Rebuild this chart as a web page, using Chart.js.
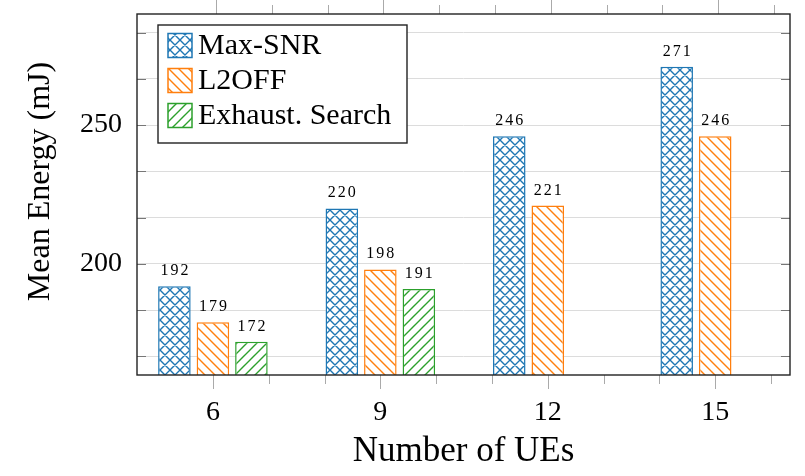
<!DOCTYPE html>
<html>
<head>
<meta charset="utf-8">
<script src="https://cdn.jsdelivr.net/npm/chart.js@4.4.0/dist/chart.umd.min.js"></script>
<style>
  html, body { margin: 0; padding: 0; background: #fff; }
</style>
</head>
<body>
<canvas id="chart" width="805" height="476"></canvas>
<script>
// data
const ues = [6, 9, 12, 15];
const maxSnr = [192, 220, 246, 271];
const l2off = [179, 198, 221, 246];
const exhaust = [172, 191, null, null];
const seriesNames = ['Max-SNR', 'L2OFF', 'Exhaust. Search'];

// axis ticks
const xMajorTicks = [6, 9, 12, 15];
const xMinorTicks = [7, 8, 10, 11, 13, 14, 16];
const xTopStubs = [6, 7, 8, 9, 10, 11, 12, 13, 14, 15, 16];
const yTicks = [500 / 3, 550 / 3, 200, 650 / 3, 700 / 3, 250, 800 / 3, 850 / 3];
const yLabelled = [200, 250];
const yTitle = 'Mean Energy (mJ)';

const colors = ['#1f77b4', '#ff7f0e', '#2ca02c'];
const hatches = ['cross', 'nw', 'ne'];
const serif = "'Liberation Serif', 'DejaVu Serif', serif";

const canvas = document.getElementById('chart');
const ctx = canvas.getContext('2d');

function makePattern(color, kind) {
  const size = 10;
  const c = document.createElement('canvas');
  c.width = size;
  c.height = size;
  const g = c.getContext('2d');
  g.fillStyle = '#fff';
  g.fillRect(0, 0, size, size);
  g.strokeStyle = color;
  g.lineWidth = 1.4;
  g.beginPath();
  for (let k = -1; k <= 1; k++) {
    if (kind === 'cross' || kind === 'nw') {
      g.moveTo(k * size - 1, -1);
      g.lineTo(k * size + size + 1, size + 1);
    }
    if (kind === 'cross' || kind === 'ne') {
      g.moveTo(k * size - 1, size + 1);
      g.lineTo(k * size + size + 1, -1);
    }
  }
  g.stroke();
  return ctx.createPattern(c, 'repeat');
}

const patterns = colors.map((c, i) => makePattern(c, hatches[i]));

function points(values) {
  return ues.map((u, i) => ({ x: u, y: values[i] }));
}

const decor = {
  id: 'decor',
  afterDatasetsDraw(chart) {
    // value labels above the bars
    const c = chart.ctx;
    c.save();
    c.font = '16px ' + serif;
    c.fillStyle = '#000';
    c.textAlign = 'center';
    c.textBaseline = 'alphabetic';
    c.letterSpacing = '2px';
    chart.data.datasets.forEach((ds, di) => {
      const meta = chart.getDatasetMeta(di);
      meta.data.forEach((bar, i) => {
        const v = ds.data[i].y;
        if (v === null || v === undefined) return;
        c.fillText(String(v), bar.x + 1, bar.y - 11);
      });
    });
    c.restore();
  },
  afterDraw(chart) {
    const c = chart.ctx;
    const a = chart.chartArea;
    const xs = chart.scales.x;
    const ys = chart.scales.y;
    c.save();

    // major and minor ticks under the x axis
    c.strokeStyle = '#aaa';
    c.lineWidth = 1;
    c.beginPath();
    xMajorTicks.forEach(v => {
      const px = Math.round(xs.getPixelForValue(v)) + 0.5;
      c.moveTo(px, a.bottom);
      c.lineTo(px, a.bottom + 14);
    });
    xMinorTicks.forEach(v => {
      const px = Math.round(xs.getPixelForValue(v)) + 0.5;
      c.moveTo(px, a.bottom);
      c.lineTo(px, a.bottom + 9);
    });
    // stubs above the frame
    xTopStubs.forEach(v => {
      const px = Math.round(xs.getPixelForValue(v)) + 3.5;
      const major = xMajorTicks.includes(v);
      c.moveTo(px, major ? 0 : 5);
      c.lineTo(px, a.top);
    });
    c.stroke();

    // inward y ticks on both sides
    c.strokeStyle = '#777';
    c.beginPath();
    yTicks.forEach(v => {
      const py = Math.round(ys.getPixelForValue(v)) + 0.5;
      c.moveTo(a.left, py);
      c.lineTo(a.left + 9, py);
      c.moveTo(a.right - 9, py);
      c.lineTo(a.right, py);
    });
    c.stroke();

    // frame
    c.strokeStyle = '#222';
    c.lineWidth = 1.4;
    c.strokeRect(a.left, a.top, a.right - a.left, a.bottom - a.top);

    // y title
    c.save();
    c.translate(41, (a.top + a.bottom) / 2 - 13);
    c.rotate(-Math.PI / 2);
    c.font = '32px ' + serif;
    c.fillStyle = '#000';
    c.textAlign = 'center';
    c.textBaseline = 'middle';
    c.fillText(yTitle, 0, 0);
    c.restore();

    // legend box
    const lx = a.left + 21, ly = a.top + 11, lw = 249, lh = 118;
    c.fillStyle = '#fff';
    c.fillRect(lx, ly, lw, lh);
    c.strokeStyle = '#222';
    c.lineWidth = 1.4;
    c.strokeRect(lx, ly, lw, lh);
    c.font = '30px ' + serif;
    c.textAlign = 'left';
    c.textBaseline = 'middle';
    seriesNames.forEach((name, i) => {
      const cy = ly + 20.5 + i * 35;
      c.fillStyle = patterns[i];
      c.fillRect(lx + 10, cy - 12, 24, 24);
      c.strokeStyle = colors[i];
      c.lineWidth = 1.5;
      c.strokeRect(lx + 10, cy - 12, 24, 24);
      c.fillStyle = '#000';
      c.fillText(name, lx + 40, cy + 1);
    });
    c.restore();
  }
};

new Chart(ctx, {
  type: 'bar',
  data: {
    datasets: [
      { label: seriesNames[0], data: points(maxSnr) },
      { label: seriesNames[1], data: points(l2off) },
      { label: seriesNames[2], data: points(exhaust) }
    ].map((d, i) => Object.assign(d, {
      backgroundColor: patterns[i],
      borderColor: colors[i],
      borderWidth: 1.5,
      borderSkipped: false,
      categoryPercentage: 0.69,
      barPercentage: 0.845
    }))
  },
  options: {
    responsive: false,
    animation: false,
    layout: { padding: { top: 14, right: 15, left: 0, bottom: 0 } },
    plugins: {
      legend: { display: false },
      tooltip: { enabled: false }
    },
    scales: {
      x: {
        type: 'linear',
        offset: false,
        min: 4.64,
        max: 16.34,
        afterBuildTicks: s => { s.ticks = xMajorTicks.map(v => ({ value: v })); },
        afterFit: s => { s.height = 101; s.paddingLeft = 0; s.paddingRight = 0; },
        border: { display: false },
        grid: { display: true, offset: false, drawOnChartArea: false, drawTicks: true, tickLength: 13, color: 'rgba(0,0,0,0)' },
        ticks: { font: { family: serif, size: 28 }, color: '#000', padding: 8, maxRotation: 0 },
        title: {
          display: true,
          text: 'Number of UEs',
          font: { family: serif, size: 35 },
          color: '#000',
          padding: { top: 0, bottom: 3 }
        }
      },
      y: {
        min: 160,
        max: 290,
        afterBuildTicks: s => { s.ticks = yTicks.map(v => ({ value: v })); },
        afterFit: s => { s.width = 137; s.paddingTop = 0; s.paddingBottom = 0; },
        border: { display: false },
        grid: { color: '#dcdcdc', drawTicks: false, tickLength: 0 },
        ticks: {
          font: { family: serif, size: 28 },
          color: '#000',
          padding: 15,
          callback: v => yLabelled.some(t => Math.abs(t - v) < 1e-6) ? String(v) : ''
        }
      }
    }
  },
  plugins: [decor]
});
</script>
</body>
</html>
